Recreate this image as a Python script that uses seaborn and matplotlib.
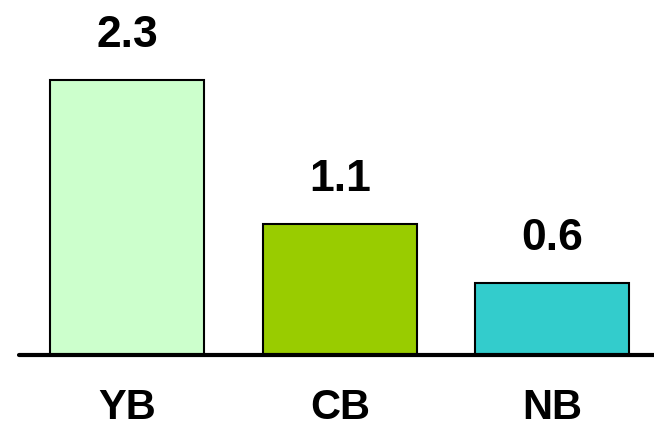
import matplotlib
matplotlib.use("Agg")
import matplotlib.pyplot as plt
import seaborn as sns
import pandas as pd

categories = ["YB", "CB", "NB"]
values = [2.3, 1.1, 0.6]
colors = ["#CCFFCC", "#99CC00", "#33CCCC"]

sns.set_style("white")
plt.rcParams['font.family'] = ['Liberation Sans', 'DejaVu Sans']
plt.rcParams['text.color'] = 'black'
plt.rcParams['xtick.color'] = 'black'

df = pd.DataFrame({"cat": categories, "val": values})

fig = plt.figure(figsize=(6.54, 4.27), dpi=100)
ax = fig.add_axes([19/654, (427-356)/427, 1 - 19/654, 356/427])
sns.barplot(data=df, x="cat", y="val", hue="cat", palette=colors, legend=False,
            width=0.725, edgecolor="black", linewidth=1.5, ax=ax, saturation=1)

ax.set_xlim(-0.51, 2.478)
ax.set_ylim(0, 2.98)
for s in ["top", "right", "left"]:
    ax.spines[s].set_visible(False)
ax.spines["bottom"].set_linewidth(3)
ax.spines["bottom"].set_color("black")
ax.spines["bottom"].set_capstyle("round")
ax.set_yticks([])
ax.set_xlabel("")
ax.set_ylabel("")
ax.tick_params(axis="x", length=0, pad=23, labelsize=30, labelcolor="black")
for lab in ax.get_xticklabels():
    lab.set_fontweight("bold")

for i, v in enumerate(values):
    ax.annotate(f"{v:.1f}", (i, v), xytext=(0, 18), textcoords="offset points",
                ha="center", va="bottom", fontsize=32, fontweight="bold", color="black")

fig.savefig("out.png", dpi=100)
